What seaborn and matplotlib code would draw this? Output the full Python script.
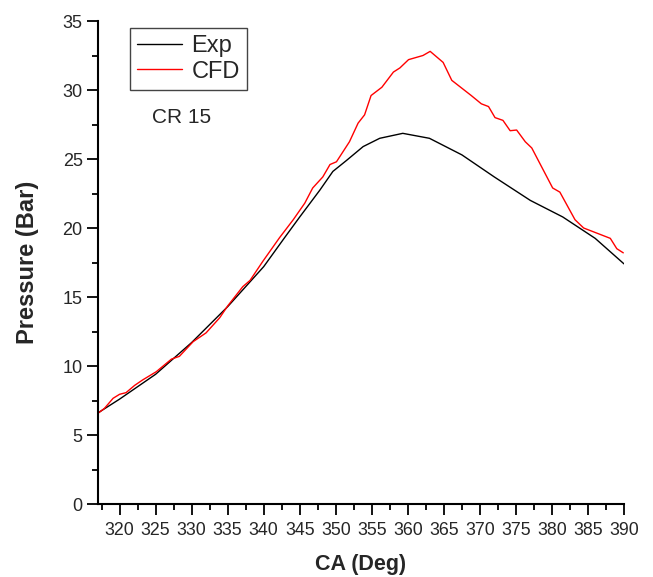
import matplotlib
matplotlib.use("Agg")
import matplotlib.pyplot as plt
import seaborn as sns
from matplotlib.ticker import MultipleLocator

exp_ca = [317, 320, 325, 330, 335, 340, 342.9, 345, 347.8, 349.6, 351.5, 353.8, 356.1,
          359.3, 363, 367.5, 372, 377, 381.5, 386, 390]
exp_p = [6.6, 7.6, 9.4, 11.7, 14.3, 17.2, 19.3, 20.8, 22.75, 24.1, 24.9, 25.9, 26.5,
         26.86, 26.5, 25.3, 23.7, 22.0, 20.8, 19.25, 17.4]

cfd_ca = [317, 317.9, 319.1, 320, 320.9, 322.1, 323.2, 325.1, 327.2, 328.3, 330.2, 332.0,
          333.9, 335.0, 337.1, 338.1, 339.9, 342.2, 344.1, 345.7, 346.8, 348.2, 349.2,
          350.1, 351.9, 353.1, 354.0, 354.9, 356.4, 358.0, 358.9, 360.1, 362.1, 363.1,
          364.9, 366.1, 368.8, 370.2, 371.2, 372.1, 373.2, 374.2, 375.1, 376.3, 377.2,
          378.8, 380.1, 381.1, 383.2, 384.4, 388.1, 389.0, 389.9]
cfd_p = [6.57, 6.93, 7.66, 7.95, 8.07, 8.6, 8.99, 9.59, 10.5, 10.7, 11.76, 12.4,
         13.5, 14.35, 15.75, 16.2, 17.6, 19.3, 20.6, 21.8, 22.9, 23.7, 24.6,
         24.8, 26.25, 27.6, 28.2, 29.6, 30.2, 31.3, 31.6, 32.2, 32.5, 32.8,
         32.0, 30.7, 29.6, 29.0, 28.8, 28.0, 27.8, 27.05, 27.1, 26.25, 25.8,
         24.2, 22.9, 22.6, 20.6, 20.0, 19.25, 18.5, 18.2]

sns.set_style("ticks")
plt.rcParams['font.family'] = ['Liberation Sans', 'DejaVu Sans']

fig = plt.figure(figsize=(6.53, 5.77), dpi=100)
ax = fig.add_axes([0.150, 0.1265, 0.8056, 0.8371])

sns.lineplot(x=exp_ca, y=exp_p, color="black", linewidth=1.0, label="Exp", ax=ax)
sns.lineplot(x=cfd_ca, y=cfd_p, color="red", linewidth=1.0, label="CFD", ax=ax)

ax.set_xlim(317, 390)
ax.set_ylim(0, 35)
ax.xaxis.set_major_locator(MultipleLocator(5))
ax.xaxis.set_minor_locator(MultipleLocator(2.5))
ax.yaxis.set_major_locator(MultipleLocator(5))
ax.yaxis.set_minor_locator(MultipleLocator(2.5))
ax.set_xticks(range(320, 391, 5))
ax.tick_params(which="major", direction="out", length=8, width=1.3, color="black")
ax.tick_params(which="minor", direction="out", length=4.5, width=1.3, color="black")
ax.tick_params(axis="x", labelsize=12.8, pad=5)
ax.tick_params(axis="y", labelsize=13, pad=3)
for s in ["top", "right"]:
    ax.spines[s].set_visible(False)
for s in ["left", "bottom"]:
    ax.spines[s].set_linewidth(1.5)
    ax.spines[s].set_color("black")

ax.set_xlabel("CA (Deg)", fontsize=15.5, fontweight="bold", labelpad=11)
ax.set_ylabel("Pressure (Bar)", fontsize=17, fontweight="bold", labelpad=17)

leg = ax.legend(loc="upper left", bbox_to_anchor=(0.061, 0.9855), borderaxespad=0,
                fontsize=17, frameon=True, fancybox=False, framealpha=1,
                edgecolor="#444444", handlelength=1.9, handletextpad=0.4,
                borderpad=0.3, labelspacing=0.15)
leg.get_frame().set_linewidth(1.0)

ax.text(0.103, 0.80, "CR 15", transform=ax.transAxes, fontsize=15, va="center", ha="left")

fig.savefig("out.png", dpi=100)
